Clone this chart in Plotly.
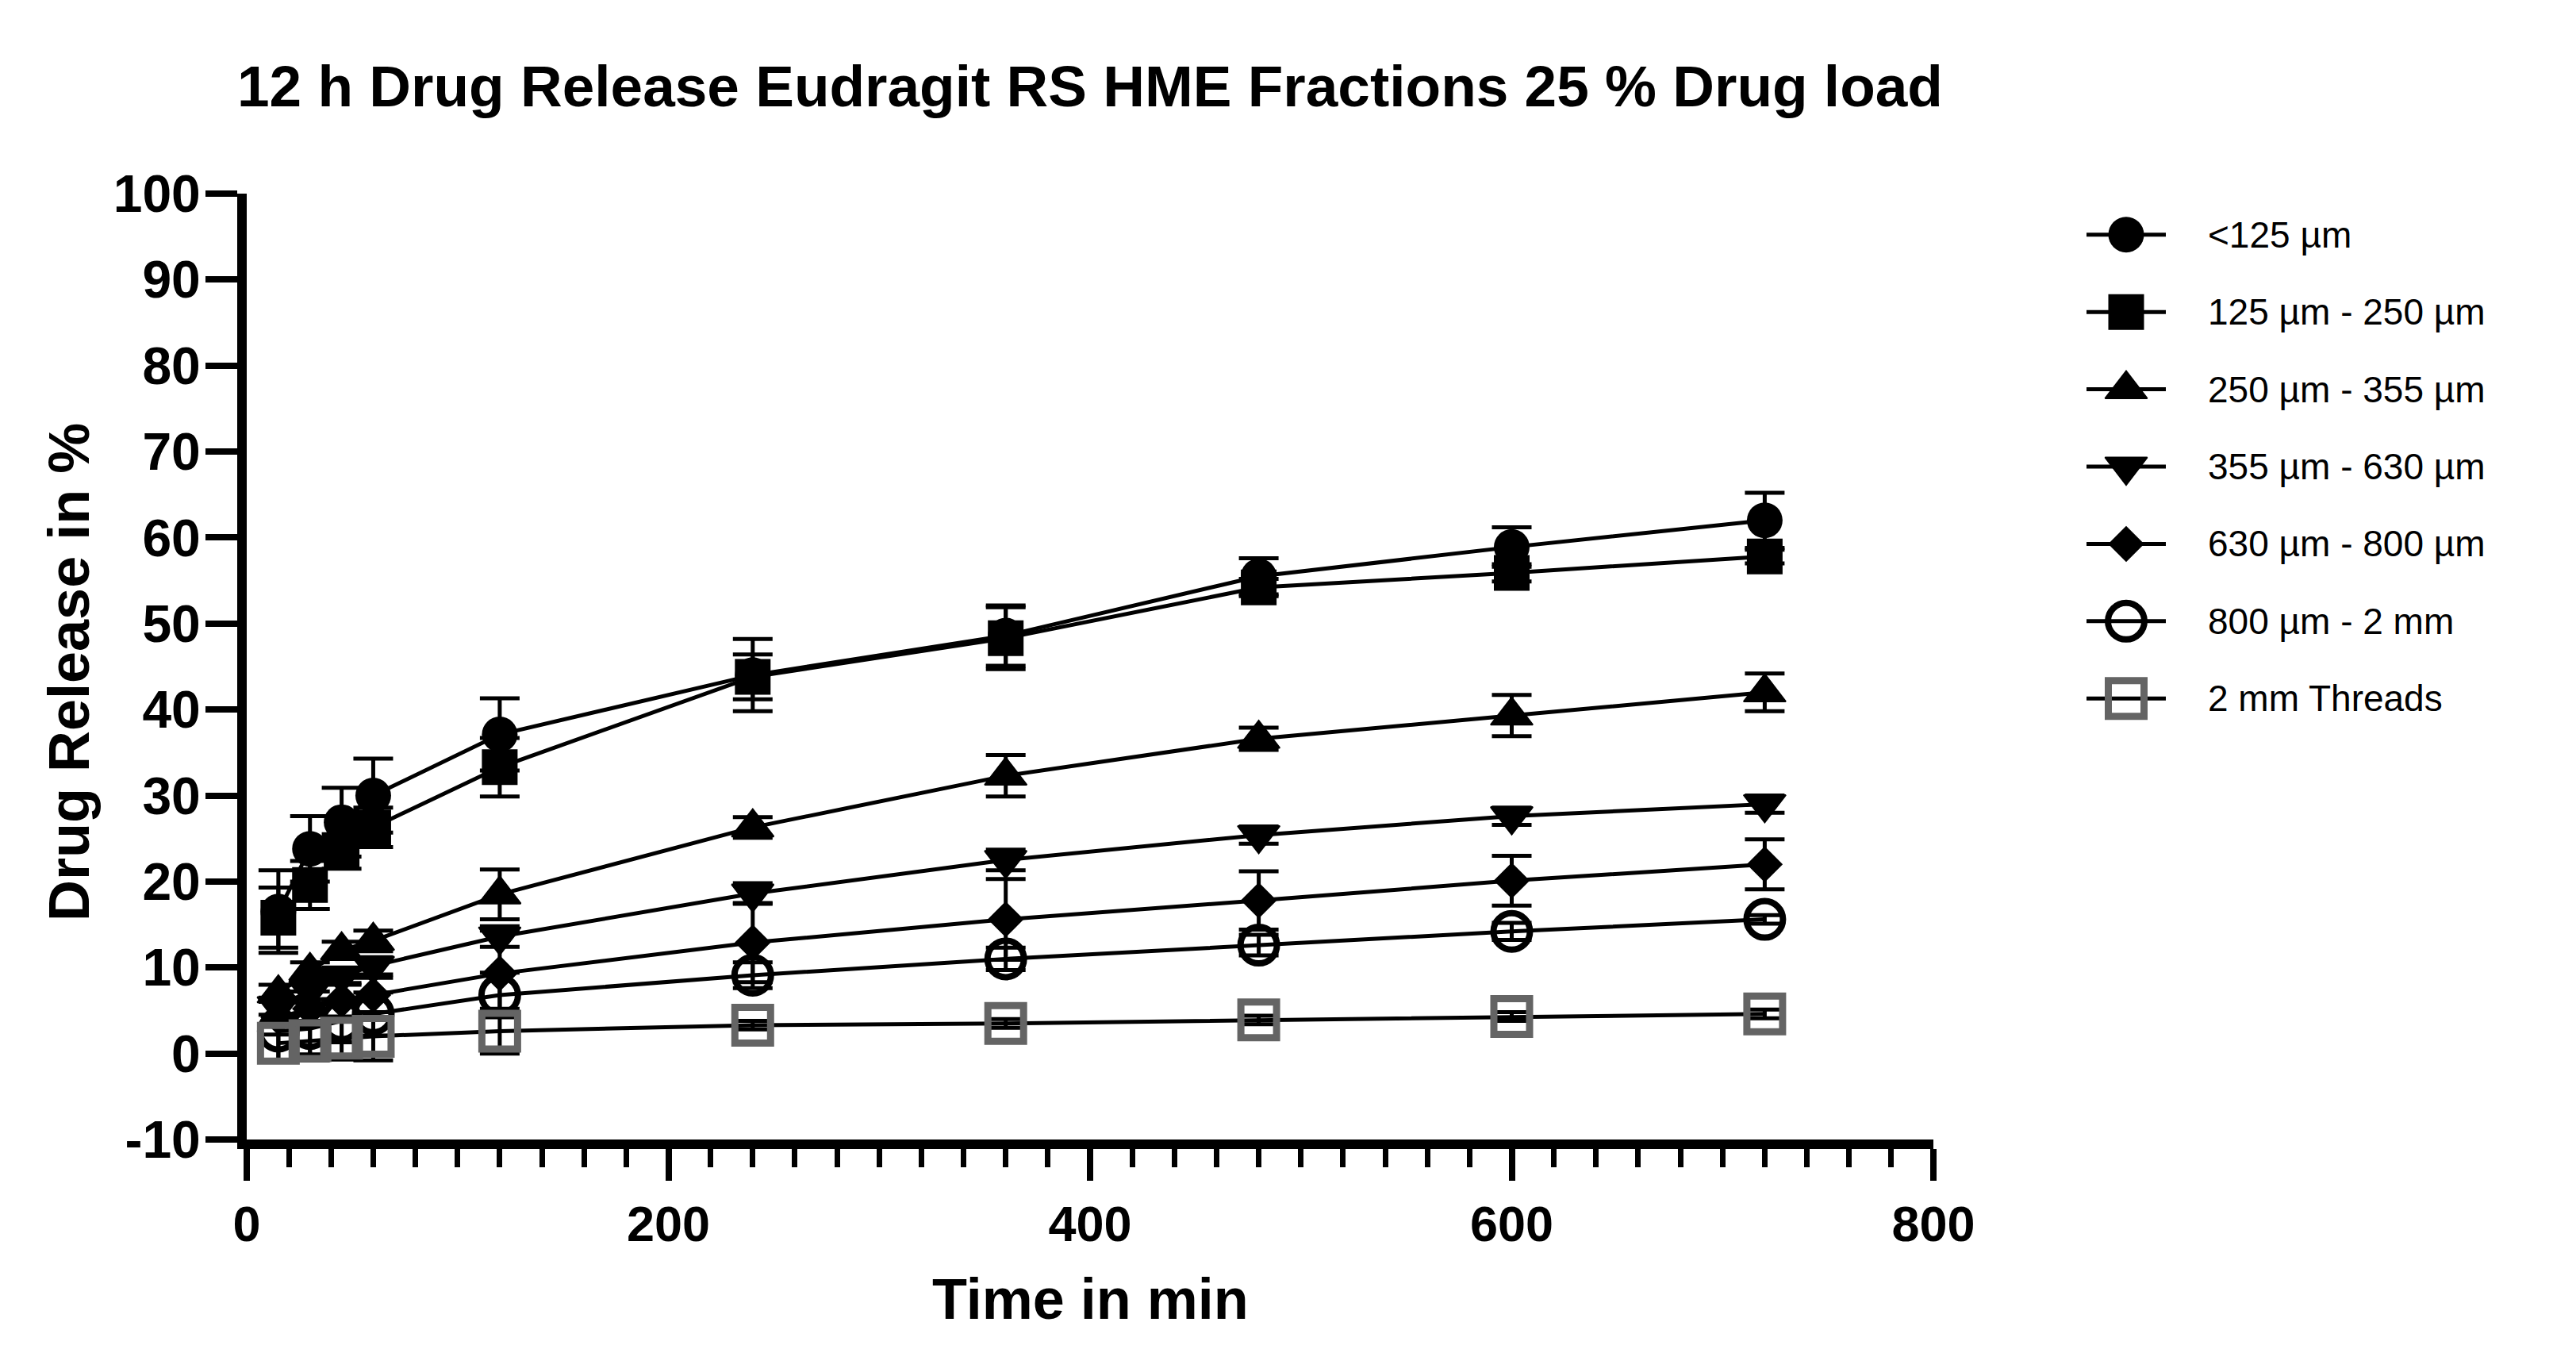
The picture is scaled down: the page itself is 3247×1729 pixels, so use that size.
import plotly.graph_objects as go

# ---------------- data ----------------
time_min = [15, 30, 45, 60, 120, 240, 360, 480, 600, 720]

series_names = ["<125 µm", "125 µm - 250 µm", "250 µm - 355 µm", "355 µm - 630 µm",
                "630 µm - 800 µm", "800 µm - 2 mm", "2 mm Threads"]

rel_lt125 = [16.5, 23.8, 26.9, 30.0, 37.1, 44.0, 48.6, 55.5, 58.9, 62.0]
err_lt125 = [4.8, 3.8, 4.0, 4.3, 4.2, 4.2, 3.5, 2.1, 2.3, 3.2]

rel_125_250 = [15.8, 19.6, 23.5, 26.3, 33.3, 43.8, 48.3, 54.2, 55.9, 57.8]
err_125_250 = [3.5, 2.8, 2.0, 2.3, 3.4, 2.6, 3.6, 1.0, 1.0, 0.8]

rel_250_355 = [7.0, 9.6, 12.0, 13.1, 18.5, 26.3, 32.3, 36.6, 39.3, 42.0]
err_250_355 = [1.0, 1.0, 1.0, 1.2, 2.9, 1.2, 2.4, 1.3, 2.4, 2.2]

rel_355_630 = [5.5, 7.3, 9.0, 10.2, 13.6, 18.6, 22.5, 25.4, 27.6, 29.0]
err_355_630 = [1.0, 1.0, 1.0, 1.0, 1.2, 1.2, 1.2, 1.0, 1.0, 1.0]

rel_630_800 = [4.2, 5.2, 6.2, 6.8, 9.3, 12.9, 15.6, 17.8, 20.1, 22.0]
err_630_800 = [2.0, 2.0, 2.0, 2.0, 5.0, 4.6, 4.7, 3.4, 2.9, 2.9]

rel_800_2mm = [2.6, 2.9, 3.8, 4.6, 6.8, 9.1, 11.0, 12.6, 14.2, 15.6]
err_800_2mm = [3.5, 3.0, 2.5, 2.5, 2.6, 1.5, 1.3, 1.2, 1.0, 0.5]

rel_threads = [1.2, 1.5, 1.8, 2.0, 2.6, 3.3, 3.5, 3.9, 4.3, 4.6]
err_threads = [2.0, 2.3, 2.5, 2.8, 2.6, 0.5, 0.5, 0.5, 0.5, 0.5]

x_tickvals = [0, 200, 400, 600, 800]
y_tickvals = [-10, 0, 10, 20, 30, 40, 50, 60, 70, 80, 90, 100]
y_ticktext = ["-10", "0", "10", "20", "30", "40", "50", "60", "70", "80", "90", "100"]

values = [rel_lt125, rel_125_250, rel_250_355, rel_355_630, rel_630_800, rel_800_2mm, rel_threads]
errors = [err_lt125, err_125_250, err_250_355, err_355_630, err_630_800, err_800_2mm, err_threads]

# ---------------- styles ----------------
FONT = "Liberation Sans, Arial, sans-serif"
W, H = 3247, 1729
markers = [
    dict(symbol="circle", size=45, color="black"),
    dict(symbol="square", size=45, color="black"),
    dict(symbol="triangle-up", size=46, color="black", line=dict(color="black", width=2)),
    dict(symbol="triangle-down", size=46, color="black", line=dict(color="black", width=2)),
    dict(symbol="diamond", size=35, color="black"),
    dict(symbol="circle-open", size=46, color="black", line=dict(color="black", width=8)),
    dict(symbol="square-open", size=45, color="#646464", line=dict(color="#646464", width=9)),
]

# plot area in pixels
px_left, px_right, px_top, px_bottom = 311, 2437, 244, 1436
xdom = [px_left / W, px_right / W]
ydom = [(H - px_bottom) / H, (H - px_top) / H]

fig = go.Figure()
for name, vals, errs, mk in zip(series_names, values, errors, markers):
    fig.add_trace(go.Scatter(
        x=time_min, y=vals, name=name, mode="lines+markers",
        line=dict(color="black", width=5),
        marker=mk,
        error_y=dict(type="data", array=errs, visible=True, color="black",
                     thickness=5, width=25),
        showlegend=False, cliponaxis=False,
    ))

# custom legend on its own hidden axes (row index = series index)
for i, (name, mk) in enumerate(zip(series_names, markers)):
    fig.add_trace(go.Scatter(x=[0, 1], y=[i, i], mode="lines",
                             line=dict(color="black", width=5),
                             xaxis="x2", yaxis="y2", showlegend=False, hoverinfo="skip"))
    fig.add_trace(go.Scatter(x=[0.5], y=[i], mode="markers", marker=mk,
                             xaxis="x2", yaxis="y2", showlegend=False, hoverinfo="skip"))
    fig.add_annotation(x=1.51, y=i, xref="x2", yref="y2", text=name, showarrow=False,
                       xanchor="left", yanchor="middle",
                       font=dict(family=FONT, size=46, color="black"))

fig.update_layout(
    width=W, height=H,
    margin=dict(l=0, r=0, t=0, b=0, pad=0, autoexpand=False),
    paper_bgcolor="white", plot_bgcolor="white",
    showlegend=False,
    xaxis=dict(
        domain=xdom, range=[0, 800], tickvals=x_tickvals,
        ticks="outside", ticklen=40, tickwidth=8, tickcolor="black",
        showline=True, linewidth=12, linecolor="black",
        showgrid=False, zeroline=False, automargin=False,
        minor=dict(dtick=20, ticks="outside", ticklen=23, tickwidth=7, tickcolor="black", showgrid=False),
        tickfont=dict(family=FONT, size=63, color="black", weight="bold"),
        anchor="y",
    ),
    yaxis=dict(
        domain=ydom, range=[-10, 100], tickvals=y_tickvals, ticktext=y_ticktext,
        ticks="outside", ticklen=40, tickwidth=8, tickcolor="black",
        showline=True, linewidth=12, linecolor="black",
        showgrid=False, zeroline=False, automargin=False,
        ticklabelstandoff=-7,
        tickfont=dict(family=FONT, size=66, color="black", weight="bold"),
        anchor="x",
    ),
    xaxis2=dict(domain=[2630 / W, 3230 / W], range=[0, 6], visible=False, anchor="y2", automargin=False),
    yaxis2=dict(domain=[(H - 929) / H, (H - 247) / H], range=[6.5, -0.5], visible=False, anchor="x2", automargin=False),
)

cx = (xdom[0] + xdom[1]) / 2
fig.add_annotation(text="12 h Drug Release Eudragit RS HME Fractions 25 % Drug load",
                   xref="paper", yref="paper", x=cx, y=(H - 109) / H,
                   xanchor="center", yanchor="middle", showarrow=False,
                   font=dict(family=FONT, size=73, color="black", weight="bold"))
fig.add_annotation(text="Time in min", xref="paper", yref="paper", x=cx, y=(H - 1637) / H,
                   xanchor="center", yanchor="middle", showarrow=False,
                   font=dict(family=FONT, size=72, color="black", weight="bold"))
fig.add_annotation(text="Drug Release in %", xref="paper", yref="paper", x=87 / W,
                   y=(H - 847) / H, textangle=-90,
                   xanchor="center", yanchor="middle", showarrow=False,
                   font=dict(family=FONT, size=72, color="black", weight="bold"))

post = ("document.documentElement.style.margin='0';document.documentElement.style.padding='0';"
        "document.documentElement.style.overflow='hidden';"
        "document.body.style.margin='0';document.body.style.padding='0';document.body.style.overflow='hidden';"
        "var d=document.getElementById('{plot_id}');d.style.position='fixed';d.style.left='0px';d.style.top='0px';")

fig.write_html("out.html", post_script=post, config={"displayModeBar": False})
